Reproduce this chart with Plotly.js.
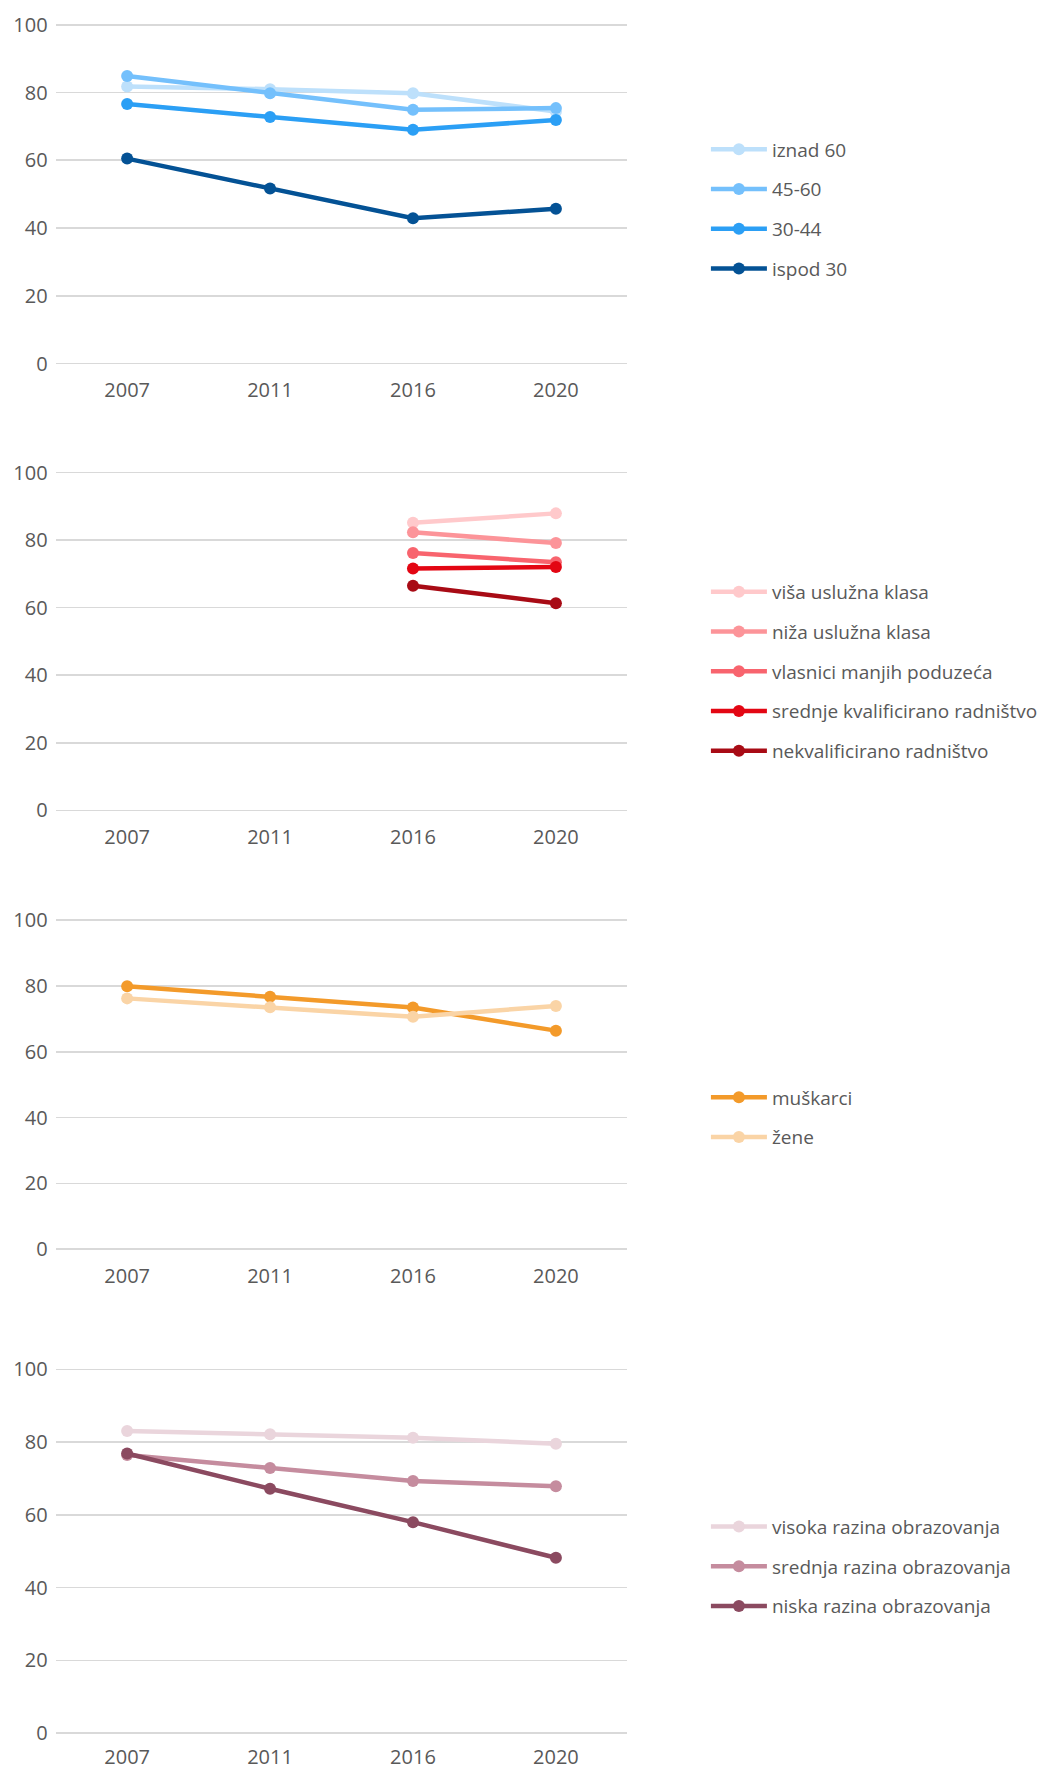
<!DOCTYPE html>
<html><head><meta charset="utf-8">
<script src="https://cdn.plot.ly/plotly-3.0.1.min.js"></script>
<style>body{margin:0;background:#fff}</style>
</head><body><div id="chart" style="width:1043px;height:1769px"></div>
<script>
const years = ['2007','2011','2016','2020'];

// Panel 1: age groups
const ageNames = ['iznad 60','45-60','30-44','ispod 30'];
const ageColors = ['#BDE0FB','#74C0FC','#2B9FF5','#045295'];
const ageIznad60 = [81.8, 81.0, 79.8, 74.4];
const age4560   = [84.9, 79.8, 74.9, 75.4];
const age3044   = [76.6, 72.8, 69.0, 71.9];
const agePod30  = [60.5, 51.7, 42.9, 45.7];

// Panel 2: social class
const classNames = ['viša uslužna klasa','niža uslužna klasa','vlasnici manjih poduzeća','srednje kvalificirano radništvo','nekvalificirano radništvo'];
const classColors = ['#FFC9CB','#FC9499','#F8646E','#E30613','#A80B15'];
const classVisa    = [null, null, 85.1, 87.9];
const classNiza    = [null, null, 82.3, 79.1];
const classVlasnici= [null, null, 76.2, 73.4];
const classSrednje = [null, null, 71.6, 72.0];
const classNekval  = [null, null, 66.5, 61.3];

// Panel 3: gender
const genderNames = ['muškarci','žene'];
const genderColors = ['#F39A2A','#FAD4A6'];
const genderMuski = [79.9, 76.7, 73.4, 66.4];
const genderZene  = [76.2, 73.5, 70.6, 73.9];

// Panel 4: education
const eduNames = ['visoka razina obrazovanja','srednja razina obrazovanja','niska razina obrazovanja'];
const eduColors = ['#EAD5DC','#C58C9E','#8B4A60'];
const eduVisoka  = [83.1, 82.2, 81.2, 79.6];
const eduSrednja = [76.5, 72.9, 69.3, 67.9];
const eduNiska   = [76.9, 67.2, 58.0, 48.2];

const yTicks = [0,20,40,60,80,100];

const panels = [
  {names: ageNames, colors: ageColors, series: [ageIznad60, age4560, age3044, agePod30]},
  {names: classNames, colors: classColors, series: [classVisa, classNiza, classVlasnici, classSrednje, classNekval]},
  {names: genderNames, colors: genderColors, series: [genderMuski, genderZene]},
  {names: eduNames, colors: eduColors, series: [eduVisoka, eduSrednja, eduNiska]}
];

const H = 1769, W = 1043;
// pixel positions of the 100 and 0 gridlines of each panel
const yPx = [[24.8,363.5],[472.5,810.3],[920,1249.3],[1369.5,1733]];
const legendCenters = [209.0, 671.5, 1117.5, 1566.7];
const xStandoff = [9, 9, 9, 6];
const PAD = 1; // range padding in value units so edge gridlines are drawn
const tickFont = {family: 'Open Sans, Noto Sans, sans-serif', size: 20, color: '#595959'};
const legFont = {family: 'Open Sans, Noto Sans, sans-serif', size: 19, color: '#595959'};

const traces = [];
const layout = {
  width: W, height: H,
  margin: {l:0, r:0, t:0, b:0},
  paper_bgcolor: '#fff', plot_bgcolor: '#fff',
  font: legFont,
  showlegend: true
};

panels.forEach((p, i) => {
  const n = i === 0 ? '' : String(i+1);
  const legName = 'legend' + n;
  p.series.forEach((s, j) => {
    traces.push({
      type: 'scatter', mode: 'lines+markers',
      x: years, y: s, name: p.names[j],
      xaxis: 'x' + n, yaxis: 'y' + n,
      legend: legName, legendgroup: 'g' + i + '_' + j,
      line: {color: p.colors[j], width: 4.5},
      marker: {color: p.colors[j], size: 12},
      connectgaps: false
    });
  });
  const top = yPx[i][0], bot = yPx[i][1];
  const pxPerUnit = (bot - top) / 100;
  const topExt = top - PAD * pxPerUnit, botExt = bot + PAD * pxPerUnit;
  layout['xaxis' + n] = {
    domain: [56/W, 631/W],
    anchor: 'y' + n,
    type: 'category',
    categoryorder: 'array', categoryarray: years,
    range: [-0.5, 3.5],
    showgrid: false, zeroline: false, showline: false,
    ticks: '', ticklabelstandoff: xStandoff[i],
    tickfont: tickFont, fixedrange: true
  };
  layout['yaxis' + n] = {
    domain: [1 - botExt/H, 1 - topExt/H],
    anchor: 'x' + n,
    range: [-PAD, 100 + PAD],
    tickvals: yTicks,
    showgrid: true, gridcolor: '#d9d9d9', gridwidth: 1.6,
    zeroline: false, showline: false,
    ticks: '', ticklabelstandoff: 7,
    tickfont: tickFont, fixedrange: true
  };
  layout[legName] = {
    x: 710/W, xanchor: 'left',
    y: 1 - legendCenters[i]/H, yanchor: 'middle',
    font: legFont, bgcolor: 'rgba(0,0,0,0)',
    tracegroupgap: 12, itemwidth: 56,
    traceorder: 'grouped'
  };
});

Plotly.newPlot('chart', traces, layout, {displayModeBar: false, staticPlot: true});
</script>
</body></html>
